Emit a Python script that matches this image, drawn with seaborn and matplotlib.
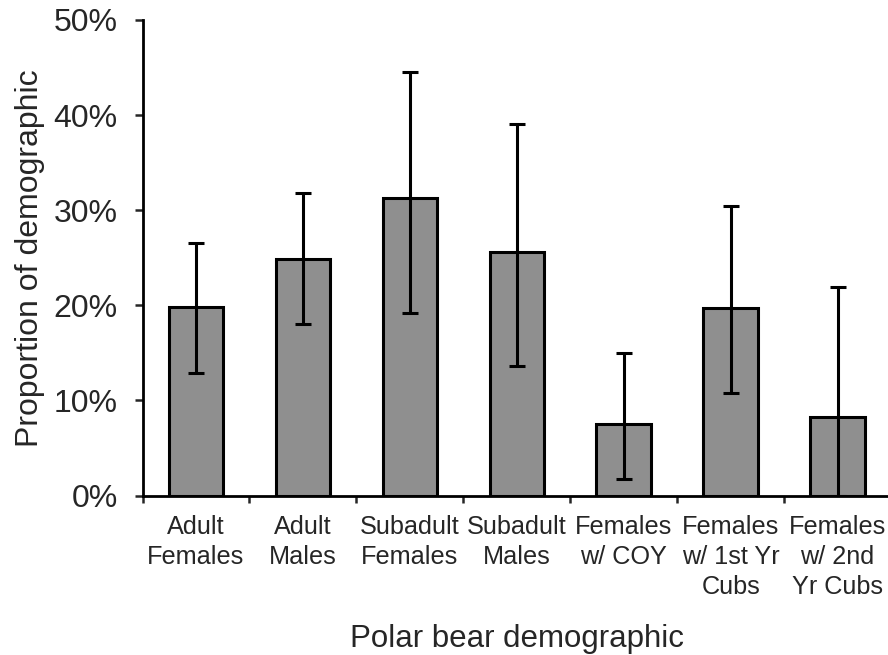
import numpy as np
import pandas as pd
import matplotlib
matplotlib.use("Agg")
import matplotlib.pyplot as plt
import seaborn as sns

# Demographic groups and detection proportions with 95% interval bounds
categories = [
    "Adult\nFemales",
    "Adult\nMales",
    "Subadult\nFemales",
    "Subadult\nMales",
    "Females\nw/ COY",
    "Females\nw/ 1st Yr\nCubs",
    "Females\nw/ 2nd\nYr Cubs",
]
proportion = [0.198, 0.249, 0.313, 0.256, 0.075, 0.197, 0.083]
ci_lower = [0.129, 0.180, 0.192, 0.136, 0.017, 0.108, 0.000]
ci_upper = [0.266, 0.318, 0.445, 0.391, 0.150, 0.304, 0.219]
y_ticks = [0.0, 0.1, 0.2, 0.3, 0.4, 0.5]
y_tick_labels = ["0%", "10%", "20%", "30%", "40%", "50%"]

df = pd.DataFrame({"group": categories, "proportion": proportion})

sns.set_style("ticks")
plt.rcParams["font.family"] = ["Liberation Sans", "DejaVu Sans"]

fig = plt.figure(figsize=(8.88, 6.55), dpi=100)
ax = fig.add_axes([0.1605, 0.2435, 0.843, 0.726])

sns.barplot(
    data=df, x="group", y="proportion", ax=ax,
    color="#8f8f8f", saturation=1, width=0.51,
    edgecolor="black", linewidth=2.2, errorbar=None,
)

vals = np.array(proportion)
yerr = np.vstack([vals - np.array(ci_lower), np.array(ci_upper) - vals])
ax.errorbar(
    np.arange(len(categories)), vals, yerr=yerr, fmt="none",
    ecolor="black", elinewidth=2.2, capsize=5.8, capthick=2.2, zorder=5,
)

ax.set_xlim(-0.5, len(categories) - 0.5)
ax.set_ylim(0, 0.5)
ax.set_yticks(y_ticks)
ax.set_yticklabels(y_tick_labels, fontsize=23)

# category boundaries carry the x tick marks; labels sit at bar centres
ax.set_xticks(np.arange(-0.5, len(categories), 1.0), minor=True)
ax.tick_params(axis="x", which="major", length=0, pad=14, labelsize=18.2)
ax.tick_params(axis="x", which="minor", length=5, width=1.8, direction="out")
ax.tick_params(axis="y", which="major", length=6, width=1.8, direction="out", pad=12)
for lab in ax.get_xticklabels():
    lab.set_linespacing(1.32)

ax.set_xlabel("Polar bear demographic", fontsize=22.5, labelpad=18)
ax.set_ylabel("Proportion of demographic", fontsize=23, labelpad=6)

for side in ("top", "right"):
    ax.spines[side].set_visible(False)
for side in ("left", "bottom"):
    ax.spines[side].set_linewidth(2.0)
    ax.spines[side].set_color("black")

fig.savefig("out.png", dpi=100, facecolor="white")
